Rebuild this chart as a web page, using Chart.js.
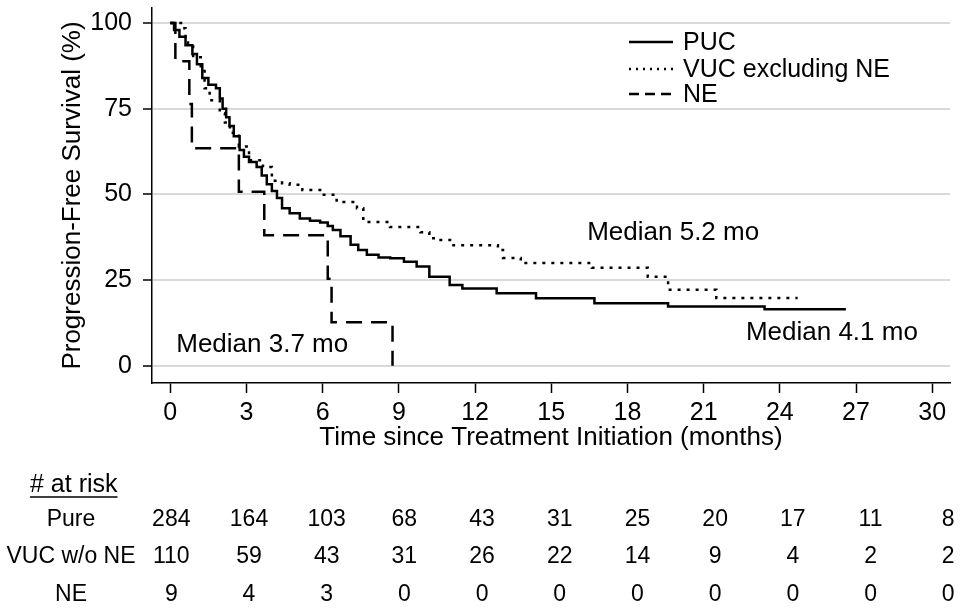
<!DOCTYPE html>
<html>
<head>
<meta charset="utf-8">
<script src="https://cdn.jsdelivr.net/npm/chart.js@4.4.1/dist/chart.umd.min.js"></script>
<style>
  html, body { margin: 0; padding: 0; background: #fff; }
  #wrap { width: 960px; height: 612px; }
</style>
</head>
<body>
<div id="wrap"><canvas id="pfsChart" width="960" height="612"></canvas></div>
<script>
// Kaplan-Meier progression-free survival

// PUC
const pucTime = [0, 0.15, 0.36, 0.6, 0.87, 1.05, 1.26, 1.5, 1.8, 1.95, 2.06, 2.2, 2.33, 2.5, 2.73, 2.9, 3.1, 3.4, 3.6, 3.8, 4.0, 4.2, 4.4, 4.7, 5.1, 5.5, 5.9, 6.2, 6.4, 6.7, 7.1, 7.4, 7.74, 8.2, 8.66, 9.2, 9.7, 10.2, 11.0, 11.5, 12.85, 14.4, 16.7, 19.6, 23.4, 26.6];
const pucSurv = [100, 98, 96, 93.5, 91, 88, 84, 82, 81, 78, 75, 72.5, 70, 67, 63, 61, 59.5, 58, 55.5, 53, 51, 49, 46, 44.5, 43, 42.3, 41.8, 40.8, 39.6, 37.8, 35.3, 33.8, 32.4, 31.6, 31.4, 30.4, 29, 26, 23.6, 22.6, 21.2, 19.7, 18.3, 17.3, 16.5, 16.5];

// VUC excluding NE
const vucTime = [0, 0.5, 0.6, 0.7, 0.9, 1.2, 1.35, 1.55, 1.95, 2.15, 2.35, 2.7, 3.1, 3.65, 4.0, 4.4, 4.7, 5.2, 5.9, 6.55, 7.35, 7.6, 8.65, 9.85, 10.2, 10.5, 11.15, 12.9, 13.1, 13.8, 16.6, 18.8, 19.6, 21.5, 24.7];
const vucSurv = [100, 98.5, 96, 94, 90, 86, 81, 77.5, 73.7, 71, 68, 64, 60, 58, 54, 53.3, 52.8, 51.3, 49.9, 47.8, 46, 42, 40.5, 39, 37.2, 36.7, 35.2, 33.8, 31.5, 30, 28.6, 26, 22.2, 19.8, 19.8];

// NE
const neTime = [0, 0.2, 0.75, 0.85, 2.7, 3.7, 6.2, 6.35, 8.75];
const neSurv = [100, 88.9, 76.4, 63.5, 50.8, 38.1, 25.4, 12.7, 0];

const seriesNames = ["PUC", "VUC excluding NE", "NE"];
const xTicks = [0, 3, 6, 9, 12, 15, 18, 21, 24, 27, 30];
const yTicks = [0, 25, 50, 75, 100];

// numbers at risk, one per x tick
const riskLabels = ["Pure", "VUC w/o NE", "NE"];
const riskPure = [284, 164, 103, 68, 43, 31, 25, 20, 17, 11, 8];
const riskVuc = [110, 59, 43, 31, 26, 22, 14, 9, 4, 2, 2];
const riskNe = [9, 4, 3, 0, 0, 0, 0, 0, 0, 0, 0];

const medianNotes = [
  { text: "Median 5.2 mo", t: 19.8, s: 38.8 },
  { text: "Median 4.1 mo", t: 26.05, s: 9.6 },
  { text: "Median 3.7 mo", t: 3.62, s: 6.1 },
];

const FONT = '"Liberation Sans", Arial, Helvetica, sans-serif';

function toPoints(times, surv) {
  return times.map((t, i) => ({ x: t, y: surv[i] }));
}

const lineStyles = [
  { dash: [] },
  { dash: [3, 6] },
  { dash: [16, 9] },
];

// keep Chart.js from reserving room for half-labels at the axis ends
function noEndPadding(scale) {
  scale.paddingTop = 0;
  scale.paddingBottom = 0;
  scale.paddingLeft = 0;
  scale.paddingRight = 0;
}

// draws legend, median labels and the at-risk table
const extrasPlugin = {
  id: "extras",
  afterDraw(chart) {
    const ctx = chart.ctx;
    const xs = chart.scales.x;
    const ys = chart.scales.y;
    ctx.save();
    ctx.fillStyle = "#000";
    ctx.strokeStyle = "#000";

    // legend
    ctx.font = "25px " + FONT;
    ctx.textAlign = "left";
    ctx.textBaseline = "middle";
    const legendY = [42, 69, 94];
    chart.data.datasets.forEach((ds, i) => {
      ctx.beginPath();
      ctx.lineWidth = 2.5;
      ctx.setLineDash(i === 1 ? [2, 5] : i === 2 ? [10, 6] : []);
      ctx.moveTo(629, legendY[i]);
      ctx.lineTo(673, legendY[i]);
      ctx.stroke();
      ctx.setLineDash([]);
      ctx.fillText(ds.label, 683, legendY[i] + 1);
    });

    // median notes
    ctx.font = "26px " + FONT;
    ctx.textAlign = "center";
    medianNotes.forEach((n) => {
      ctx.fillText(n.text, xs.getPixelForValue(n.t), ys.getPixelForValue(n.s));
    });

    // at risk table
    ctx.font = "25px " + FONT;
    ctx.textAlign = "left";
    ctx.textBaseline = "alphabetic";
    const head = "# at risk";
    ctx.fillText(head, 30, 492);
    const w = ctx.measureText(head).width;
    ctx.lineWidth = 1.5;
    ctx.beginPath();
    ctx.moveTo(30, 497);
    ctx.lineTo(30 + w, 497);
    ctx.stroke();

    ctx.font = "23px " + FONT;
    ctx.textAlign = "center";
    ctx.textBaseline = "middle";
    const rows = [riskPure, riskVuc, riskNe];
    const rowY = [520, 557, 595];
    const x0 = xs.getPixelForValue(0) + 1;
    const step = (xs.getPixelForValue(30) - xs.getPixelForValue(0)) / 10 + 1.5;
    rows.forEach((vals, r) => {
      ctx.fillText(riskLabels[r], 71, rowY[r]);
      vals.forEach((v, i) => {
        ctx.fillText(String(v), x0 + i * step, rowY[r]);
      });
    });
    ctx.restore();
  },
};

const ctx = document.getElementById("pfsChart");
new Chart(ctx.getContext("2d"), {
  type: "line",
  data: {
    datasets: [
      { label: seriesNames[0], data: toPoints(pucTime, pucSurv) },
      { label: seriesNames[1], data: toPoints(vucTime, vucSurv) },
      { label: seriesNames[2], data: toPoints(neTime, neSurv) },
    ].map((ds, i) => ({
      ...ds,
      borderColor: "#000",
      borderWidth: 2.5,
      borderDash: lineStyles[i].dash,
      pointRadius: 0,
      stepped: "before",
      fill: false,
    })),
  },
  options: {
    responsive: false,
    animation: false,
    events: [],
    layout: { padding: { left: 0, top: 8, right: 10, bottom: 159 } },
    plugins: {
      legend: { display: false },
      tooltip: { enabled: false },
    },
    scales: {
      x: {
        type: "linear",
        min: -0.72,
        max: 30.7,
        afterBuildTicks: (scale) => {
          scale.ticks = xTicks.map((v) => ({ value: v }));
        },
        afterFit: (scale) => {
          scale.height = 70;
          noEndPadding(scale);
        },
        grid: {
          drawOnChartArea: false,
          drawTicks: true,
          tickLength: 10,
          tickColor: "#000",
          tickWidth: 1.5,
        },
        border: { color: "#000", width: 1.5 },
        ticks: {
          color: "#000",
          font: { family: FONT, size: 25 },
          padding: 5,
          maxRotation: 0,
        },
        title: {
          display: true,
          text: "Time since Treatment Initiation (months)",
          color: "#000",
          font: { family: FONT, size: 26 },
          padding: { top: 0, bottom: 0 },
        },
      },
      y: {
        type: "linear",
        min: -5,
        max: 104.4,
        afterBuildTicks: (scale) => {
          scale.ticks = yTicks.map((v) => ({ value: v }));
        },
        afterFit: (scale) => {
          scale.width = 152;
          noEndPadding(scale);
        },
        grid: {
          color: "#d9d9d9",
          lineWidth: 2,
          drawTicks: true,
          tickLength: 9,
          tickColor: "#000",
          tickWidth: 1.5,
        },
        border: { color: "#000", width: 1.5 },
        ticks: {
          color: "#000",
          font: { family: FONT, size: 25 },
          padding: 11,
        },
        title: {
          display: true,
          text: "Progression-Free Survival (%)",
          color: "#000",
          font: { family: FONT, size: 26 },
          padding: { top: 57, bottom: 0 },
        },
      },
    },
  },
  plugins: [extrasPlugin],
});
</script>
</body>
</html>
